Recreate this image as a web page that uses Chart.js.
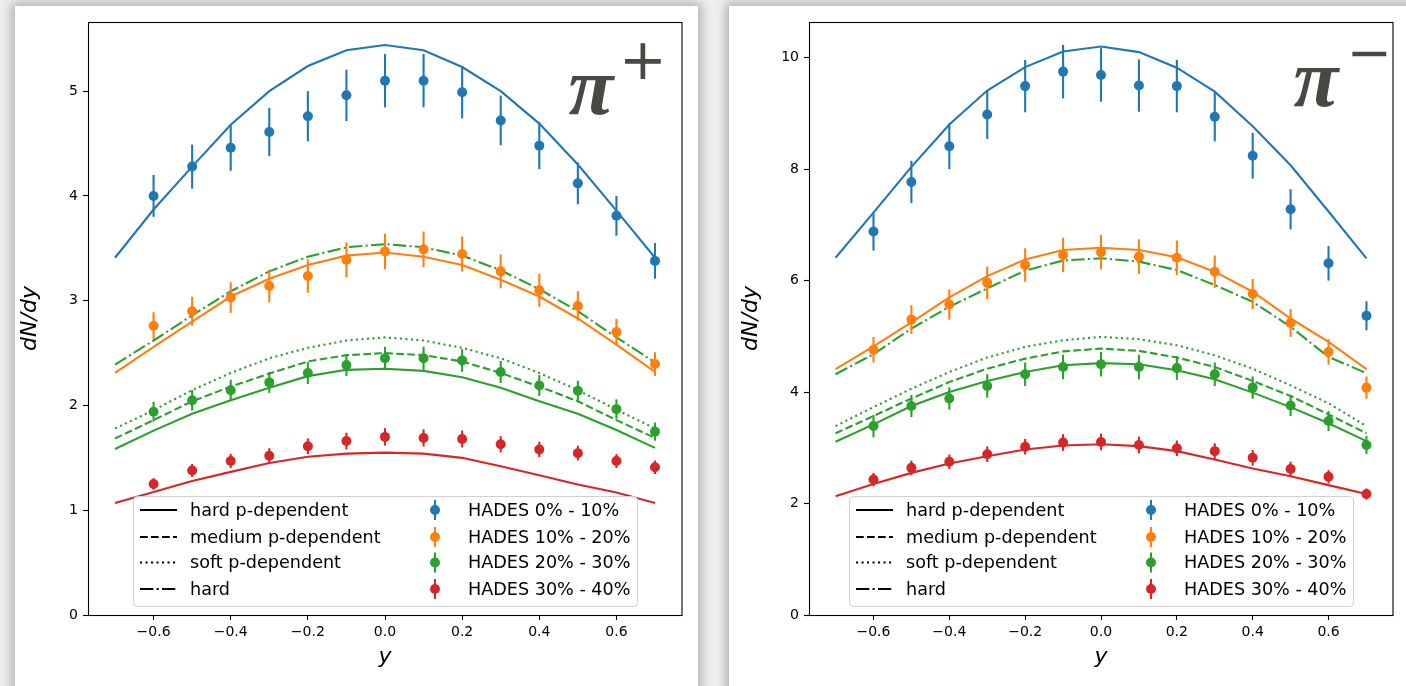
<!DOCTYPE html>
<html><head><meta charset="utf-8">
<script src="https://cdn.jsdelivr.net/npm/chart.js@4.4.0/dist/chart.umd.min.js"></script>
<style>
html,body{margin:0;padding:0;width:1406px;height:686px;overflow:hidden;background:#eeeeee;}
.card{position:absolute;background:#fff;box-shadow:0 0 10px 3px rgba(0,0,0,0.28);}
#card1{left:15px;top:6px;width:683px;height:700px;}
#card2{left:729px;top:6px;width:700px;height:700px;}
canvas{position:absolute;left:0;top:0;}
</style></head><body>
<div class="card" id="card1"><canvas id="cPlus" width="683" height="680"></canvas></div>
<div class="card" id="card2"><canvas id="cMinus" width="677" height="680"></canvas></div>
<script>
// ---------- data ----------
const Y_MODEL = [-0.7,-0.6,-0.5,-0.4,-0.3,-0.2,-0.1,0.0,0.1,0.2,0.3,0.4,0.5,0.6,0.7];
const Y_DATA  = [-0.6,-0.5,-0.4,-0.3,-0.2,-0.1,0.0,0.1,0.2,0.3,0.4,0.5,0.6,0.7];
const X_TICKS = [-0.6,-0.4,-0.2,0.0,0.2,0.4,0.6];
const Y_TICKS_PLUS  = [0,1,2,3,4,5];
const Y_TICKS_MINUS = [0,2,4,6,8,10];
const MODEL_LABELS = ['hard p-dependent','medium p-dependent','soft p-dependent','hard'];
const DATA_LABELS  = ['HADES 0% - 10%','HADES 10% - 20%','HADES 20% - 30%','HADES 30% - 40%'];

// pi+ model curves
const PLUS_C0_HARDP = [3.41,3.87,4.28,4.68,5.00,5.24,5.39,5.44,5.39,5.23,5.00,4.69,4.30,3.86,3.41];
const PLUS_C1_HARDP = [2.31,2.56,2.80,3.04,3.21,3.34,3.43,3.46,3.42,3.34,3.20,3.04,2.83,2.58,2.32];
const PLUS_C2_HARDP = [1.585,1.76,1.92,2.05,2.17,2.28,2.34,2.35,2.33,2.27,2.17,2.04,1.92,1.765,1.595];
const PLUS_C2_MEDP  = [1.685,1.86,2.04,2.18,2.305,2.42,2.48,2.50,2.48,2.42,2.31,2.18,2.04,1.86,1.69];
const PLUS_C2_SOFTP = [1.78,1.955,2.146,2.31,2.45,2.55,2.62,2.65,2.62,2.55,2.45,2.31,2.146,1.96,1.78];
const PLUS_C2_HARD  = [2.39,2.62,2.86,3.09,3.28,3.42,3.51,3.54,3.51,3.43,3.29,3.11,2.90,2.65,2.41];
const PLUS_C3_HARDP = [1.07,1.175,1.28,1.366,1.45,1.51,1.54,1.55,1.54,1.50,1.42,1.334,1.245,1.17,1.07];
// pi+ HADES data
const PLUS_D0 = [4.00,4.28,4.46,4.61,4.76,4.96,5.10,5.10,4.99,4.72,4.48,4.12,3.81,3.38];
const PLUS_E0 = [0.20,0.21,0.22,0.23,0.24,0.245,0.255,0.255,0.25,0.237,0.225,0.20,0.19,0.17];
const PLUS_D1 = [2.76,2.90,3.03,3.14,3.235,3.39,3.47,3.49,3.445,3.28,3.10,2.95,2.70,2.395];
const PLUS_E1 = [0.13,0.138,0.146,0.156,0.159,0.167,0.169,0.17,0.167,0.162,0.158,0.14,0.127,0.113];
const PLUS_D2 = [1.94,2.05,2.146,2.22,2.31,2.385,2.45,2.45,2.43,2.32,2.19,2.14,1.965,1.75];
const PLUS_E2 = [0.095,0.098,0.10,0.10,0.105,0.105,0.11,0.11,0.108,0.105,0.10,0.097,0.093,0.086];
const PLUS_D3 = [1.25,1.38,1.47,1.52,1.61,1.66,1.70,1.69,1.68,1.63,1.58,1.545,1.47,1.41];
const PLUS_E3 = [0.056,0.062,0.068,0.072,0.076,0.08,0.083,0.082,0.08,0.077,0.074,0.07,0.067,0.064];

// pi- model curves
const MINUS_C0_HARDP = [6.41,7.22,8.04,8.80,9.41,9.83,10.11,10.20,10.10,9.82,9.39,8.77,8.07,7.24,6.40];
const MINUS_C1_HARDP = [4.41,4.82,5.25,5.70,6.08,6.38,6.55,6.59,6.55,6.42,6.16,5.80,5.32,4.90,4.41];
const MINUS_C2_HARDP = [3.11,3.42,3.75,4.00,4.20,4.36,4.48,4.52,4.50,4.39,4.23,3.99,3.73,3.44,3.12];
const MINUS_C2_MEDP  = [3.26,3.57,3.885,4.18,4.42,4.60,4.73,4.78,4.74,4.62,4.45,4.20,3.93,3.60,3.26];
const MINUS_C2_SOFTP = [3.39,3.73,4.06,4.36,4.62,4.81,4.93,4.99,4.95,4.84,4.66,4.42,4.12,3.80,3.39];
const MINUS_C2_HARD  = [4.32,4.68,5.14,5.53,5.86,6.18,6.36,6.40,6.34,6.19,5.92,5.62,5.17,4.63,4.34];
const MINUS_C3_HARDP = [2.13,2.35,2.55,2.72,2.85,2.97,3.04,3.065,3.03,2.94,2.79,2.63,2.49,2.33,2.17];
// pi- HADES data
const MINUS_D0 = [6.88,7.77,8.41,8.98,9.49,9.75,9.69,9.50,9.49,8.94,8.24,7.28,6.31,5.37];
const MINUS_E0 = [0.34,0.38,0.41,0.44,0.47,0.48,0.48,0.47,0.47,0.44,0.41,0.36,0.31,0.26];
const MINUS_D1 = [4.76,5.30,5.57,5.96,6.28,6.46,6.51,6.43,6.41,6.16,5.76,5.24,4.72,4.08];
const MINUS_E1 = [0.23,0.26,0.27,0.29,0.30,0.31,0.31,0.31,0.31,0.29,0.27,0.25,0.23,0.20];
const MINUS_D2 = [3.39,3.75,3.885,4.11,4.32,4.45,4.50,4.45,4.43,4.32,4.08,3.76,3.48,3.05];
const MINUS_E2 = [0.20,0.20,0.20,0.21,0.21,0.22,0.22,0.22,0.21,0.21,0.20,0.19,0.18,0.16];
const MINUS_D3 = [2.43,2.64,2.75,2.885,3.02,3.095,3.105,3.05,2.99,2.94,2.82,2.62,2.48,2.17];
const MINUS_E3 = [0.12,0.13,0.13,0.14,0.14,0.15,0.15,0.15,0.14,0.14,0.14,0.13,0.12,0.10];

// ---------- styles ----------
const COLORS = ['#1f77b4','#ff7f0e','#2ca02c','#d62728'];
const LW = 2.1;
const DASHES = { solid: [], dashed: [7.7,3.3], dotted: [2.1,3.4], dashdot: [13.3,3.3,2.1,3.3] };
const FONT = 'DejaVu Sans';

function pts(xs, ys){ return xs.map((x,i)=>({x:x, y:ys[i]})); }

const framePlugin = {
  id: 'frame',
  afterDraw(chart){
    const a = chart.chartArea, ctx = chart.ctx;
    ctx.save();
    ctx.strokeStyle = '#000'; ctx.lineWidth = 1.1;
    ctx.strokeRect(Math.round(a.left)+0.5, Math.round(a.top)+0.5, Math.round(a.right-a.left)-0.5, Math.round(a.bottom-a.top));
    ctx.restore();
  }
};

const errorPlugin = {
  id: 'errbars',
  beforeDatasetDraw(chart, args){
    const ds = chart.data.datasets[args.index];
    if (!ds.errors) return;
    const xs = chart.scales.x, ys = chart.scales.y, ctx = chart.ctx;
    ctx.save();
    ctx.strokeStyle = ds.errColor; ctx.lineWidth = LW;
    ds.data.forEach((p,i)=>{
      const px = xs.getPixelForValue(p.x);
      ctx.beginPath();
      ctx.moveTo(px, ys.getPixelForValue(p.y - ds.errors[i]));
      ctx.lineTo(px, ys.getPixelForValue(p.y + ds.errors[i]));
      ctx.stroke();
    });
    ctx.restore();
  }
};

const legendPlugin = {
  id: 'mplLegend',
  afterDraw(chart){
    const a = chart.chartArea, ctx = chart.ctx;
    const w = 504, h = 110;
    const bx = (a.left + a.right)/2 - w/2, by = a.bottom - 9 - h;
    ctx.save();
    ctx.beginPath();
    if (ctx.roundRect) ctx.roundRect(bx+0.5, by+0.5, w, h, 4); else ctx.rect(bx+0.5, by+0.5, w, h);
    ctx.fillStyle = 'rgba(255,255,255,0.8)'; ctx.fill();
    ctx.strokeStyle = '#d0d0d0'; ctx.lineWidth = 1; ctx.stroke();
    const rows = [by+14, by+41, by+66.5, by+93];
    const styles = ['solid','dashed','dotted','dashdot'];
    ctx.font = '17.6px "' + FONT + '"';
    ctx.textBaseline = 'middle';
    ctx.fillStyle = '#000';
    for (let i=0;i<4;i++){
      const y = rows[i];
      ctx.strokeStyle = '#000'; ctx.lineWidth = LW; ctx.setLineDash(DASHES[styles[i]]);
      ctx.beginPath(); ctx.moveTo(bx+7, y); ctx.lineTo(bx+44, y); ctx.stroke();
      ctx.setLineDash([]);
      ctx.fillText(MODEL_LABELS[i], bx+57, y+1);
      const mx = bx + 302;
      ctx.strokeStyle = COLORS[i];
      ctx.beginPath(); ctx.moveTo(mx, y-10); ctx.lineTo(mx, y+10); ctx.stroke();
      ctx.fillStyle = COLORS[i];
      ctx.beginPath(); ctx.arc(mx, y, 5, 0, Math.PI*2); ctx.fill();
      ctx.fillStyle = '#000';
      ctx.fillText(DATA_LABELS[i], bx+335, y+1);
    }
    ctx.restore();
  }
};

const particlePlugin = {
  id: 'particle',
  afterDraw(chart){
    const o = chart.options.plugins.particle;
    const a = chart.chartArea, ctx = chart.ctx;
    ctx.save();
    ctx.fillStyle = '#4a4843';
    ctx.textAlign = 'center'; ctx.textBaseline = 'alphabetic';
    ctx.font = 'italic bold 82px "Liberation Serif"';
    ctx.fillText('\u03C0', a.right + o.piDx, a.top + o.piDy);
    ctx.font = o.sSize + 'px "DejaVu Sans"';
    ctx.textBaseline = 'middle';
    ctx.fillText(o.sign, a.right + o.sDx, a.top + o.sDy);
    ctx.restore();
  }
};

function makePanel(id, cfg){
  const datasets = [];
  cfg.data.forEach((vals,k)=>{
    datasets.push({
      type:'line', data: pts(Y_DATA, vals), errors: cfg.err[k], errColor: COLORS[k],
      showLine:false, pointRadius:5, pointHoverRadius:5, pointBorderWidth:0,
      pointBackgroundColor: COLORS[k], borderColor: COLORS[k], backgroundColor: COLORS[k]
    });
  });
  cfg.lines.forEach(l=>{
    datasets.push({
      type:'line', data: pts(Y_MODEL, l.v), borderColor: COLORS[l.c], borderWidth: LW,
      borderDash: DASHES[l.s], pointRadius:0, fill:false, tension:0, borderCapStyle:'butt'
    });
  });
  return new Chart(document.getElementById(id), {
    type: 'line',
    data: { datasets },
    options: {
      responsive:false, animation:false, devicePixelRatio:1,
      layout: { padding: { left:0, top:16, right: cfg.padRight, bottom:0 } },
      plugins: { legend:{display:false}, tooltip:{enabled:false},
        particle: cfg.particle },
      scales: {
        x: {
          type:'linear', min:-0.77, max:0.77,
          afterBuildTicks: s => { s.ticks = X_TICKS.map(v=>({value:v})); },
          afterFit: s => { s.height = 71; },
          ticks: { color:'#000', font:{family:FONT, size:14}, padding:4, maxRotation:0,
                   callback: v => v.toFixed(1).replace('-', '\u2212') },
          grid: { display:true, drawOnChartArea:false, drawTicks:true, tickLength:5, tickColor:'#000', tickWidth:1.1 },
          border: { display:false },
          title: { display:true, text:'y', color:'#000', font:{family:FONT, size:22, style:'italic'}, padding:{top:0,bottom:16} }
        },
        y: {
          type:'linear', min:0, max: cfg.ymax,
          afterBuildTicks: s => { s.ticks = cfg.yticks.map(v=>({value:v})); },
          afterFit: s => { s.width = cfg.yWidth; },
          ticks: { color:'#000', font:{family:FONT, size:14}, padding:5,
                   callback: v => String(v) },
          grid: { display:true, drawOnChartArea:false, drawTicks:true, tickLength:5, tickColor:'#000', tickWidth:1.1 },
          border: { display:false },
          title: { display:true, text:'dN/dy', color:'#000', font:{family:FONT, size:22, style:'italic'}, padding:{top:cfg.yTitlePad,bottom:0} }
        }
      }
    },
    plugins: [errorPlugin, framePlugin, legendPlugin, particlePlugin]
  });
}

makePanel('cPlus', {
  ymax: 5.66, yticks: Y_TICKS_PLUS, yWidth: 73, padRight: 16, yTitlePad: 2,
  data: [PLUS_D0, PLUS_D1, PLUS_D2, PLUS_D3],
  err:  [PLUS_E0, PLUS_E1, PLUS_E2, PLUS_E3],
  lines: [
    {v:PLUS_C0_HARDP, c:0, s:'solid'},
    {v:PLUS_C1_HARDP, c:1, s:'solid'},
    {v:PLUS_C2_HARDP, c:2, s:'solid'},
    {v:PLUS_C2_MEDP,  c:2, s:'dashed'},
    {v:PLUS_C2_SOFTP, c:2, s:'dotted'},
    {v:PLUS_C2_HARD,  c:2, s:'dashdot'},
    {v:PLUS_C3_HARDP, c:3, s:'solid'}
  ],
  particle: { piDx:-91, piDy:92, sign:'+', sSize:57, sDx:-39, sDy:42 }
});

makePanel('cMinus', {
  ymax: 10.64, yticks: Y_TICKS_MINUS, yWidth: 80, padRight: 13, yTitlePad: 9,
  data: [MINUS_D0, MINUS_D1, MINUS_D2, MINUS_D3],
  err:  [MINUS_E0, MINUS_E1, MINUS_E2, MINUS_E3],
  lines: [
    {v:MINUS_C0_HARDP, c:0, s:'solid'},
    {v:MINUS_C1_HARDP, c:1, s:'solid'},
    {v:MINUS_C2_HARDP, c:2, s:'solid'},
    {v:MINUS_C2_MEDP,  c:2, s:'dashed'},
    {v:MINUS_C2_SOFTP, c:2, s:'dotted'},
    {v:MINUS_C2_HARD,  c:2, s:'dashdot'},
    {v:MINUS_C3_HARDP, c:3, s:'solid'}
  ],
  particle: { piDx:-77, piDy:84, sign:'\u2212', sSize:54, sDx:-24, sDy:35 }
});
</script>
</body></html>
